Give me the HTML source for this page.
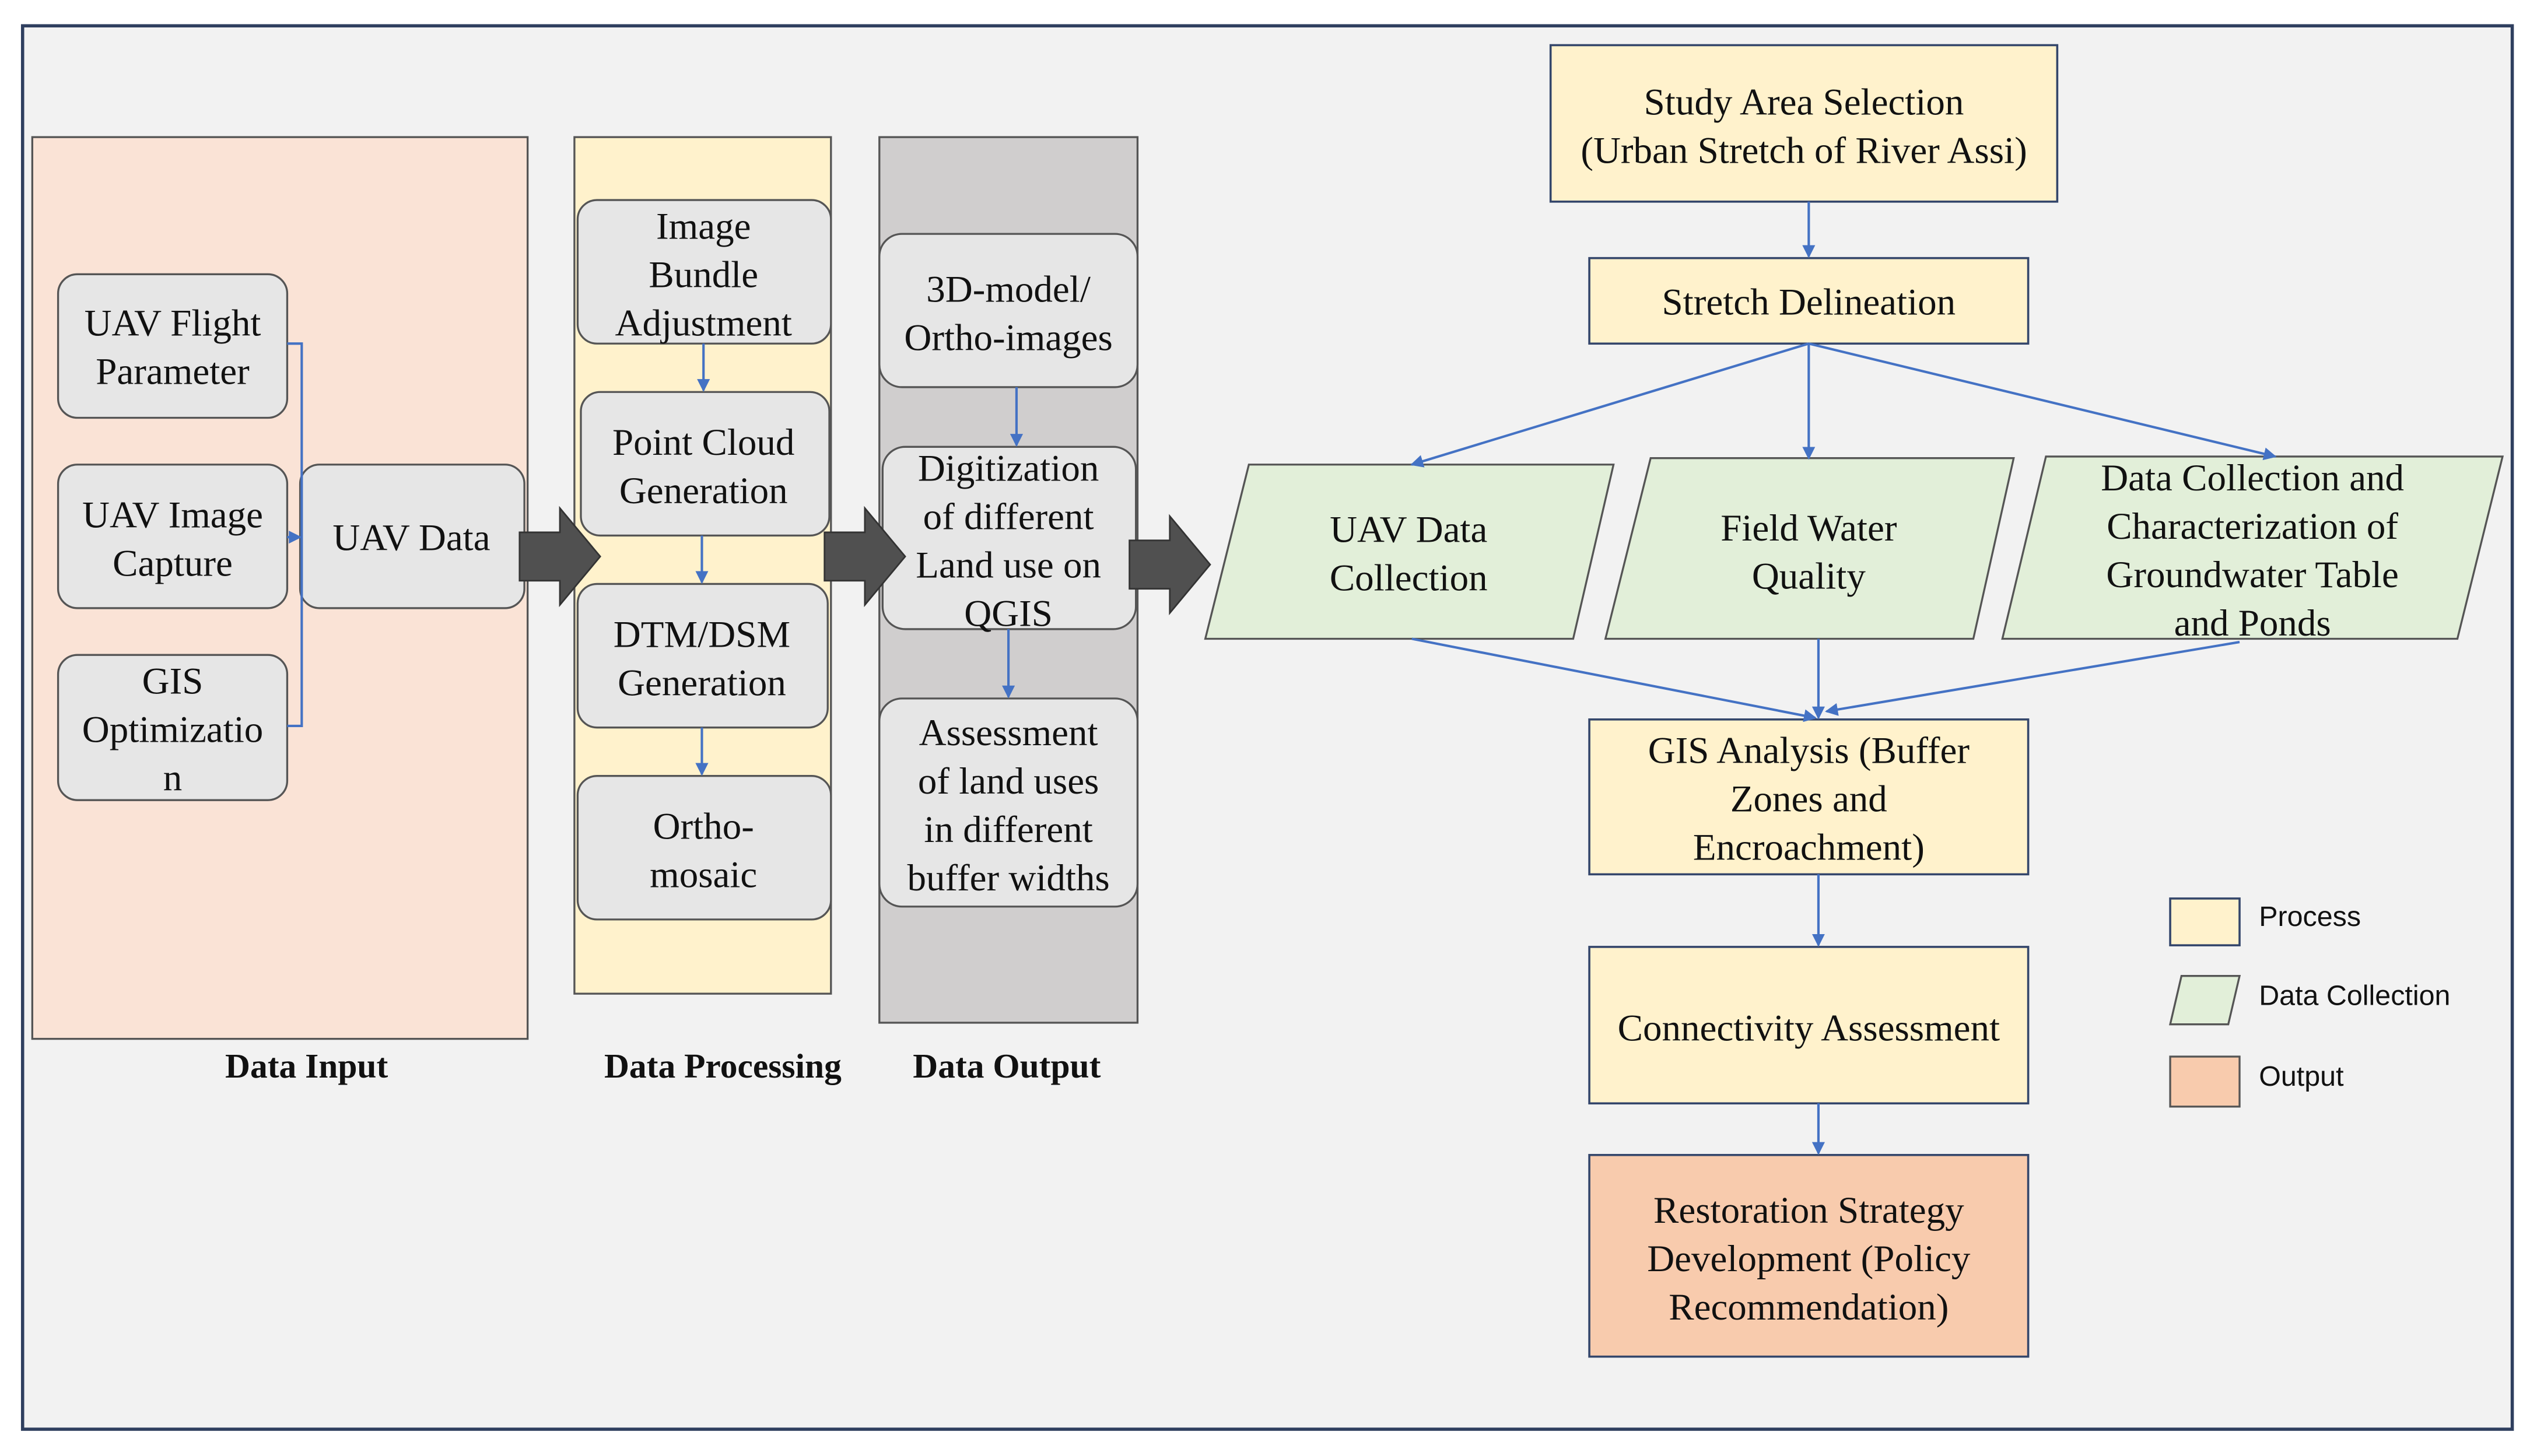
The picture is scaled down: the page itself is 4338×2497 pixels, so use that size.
<!DOCTYPE html>
<html><head><meta charset="utf-8"><style>
html,body{margin:0;padding:0;background:#fff;}
svg{display:block;}
.s{font-family:"Liberation Serif",serif;font-size:23.5px;fill:#111;text-anchor:middle;}
.b{font-family:"Liberation Serif",serif;font-size:21.5px;font-weight:bold;fill:#111;text-anchor:middle;}
.l{font-family:"Liberation Sans",sans-serif;font-size:17.5px;fill:#111;}
.g{fill:#e6e6e6;stroke:#555;stroke-width:1.2;}
.y{fill:#fff2cc;stroke:#34466b;stroke-width:1.3;}
.gr{fill:#e2efd9;stroke:#555;stroke-width:1.2;}
.ln{stroke:#4472c4;stroke-width:1.5;fill:none;}
.ar{fill:#505050;stroke:#333;stroke-width:1;}
</style></head><body>
<svg width="4338" height="2497" viewBox="0 0 1568 902.6" preserveAspectRatio="none" xmlns="http://www.w3.org/2000/svg">
<defs><marker id="a" markerWidth="8" markerHeight="8" refX="7" refY="4" orient="auto" markerUnits="userSpaceOnUse"><path d="M0,0 L8,4 L0,8 z" fill="#4472c4"/></marker></defs>
<rect x="0" y="0" width="1568" height="903" fill="#fff"/>
<rect x="14" y="16" width="1543" height="870" fill="#f2f2f2" stroke="#2f3f5f" stroke-width="2"/>
<!-- Data Input -->
<rect x="20" y="85" width="307" height="559" fill="#fae3d6" stroke="#555" stroke-width="1.2"/>
<rect class="g" x="36" y="170" width="142" height="89" rx="12"/>
<text class="s"><tspan x="107" y="208">UAV Flight</tspan><tspan x="107" y="238">Parameter</tspan></text>
<rect class="g" x="36" y="288" width="142" height="89" rx="12"/>
<text class="s"><tspan x="107" y="327">UAV Image</tspan><tspan x="107" y="357">Capture</tspan></text>
<rect class="g" x="36" y="406" width="142" height="90" rx="12"/>
<text class="s"><tspan x="107" y="430">GIS</tspan><tspan x="107" y="460">Optimizatio</tspan><tspan x="107" y="490">n</tspan></text>
<rect class="g" x="186" y="288" width="139" height="89" rx="12"/>
<text class="s" x="255" y="341">UAV Data</text>
<path class="ln" d="M178,213 H187 V450 H178"/>
<line class="ln" x1="178" y1="333" x2="186" y2="333" marker-end="url(#a)"/>
<!-- Data Processing -->
<rect x="356" y="85" width="159" height="531" fill="#fff2cc" stroke="#555" stroke-width="1.2"/>
<rect class="g" x="358" y="124" width="157" height="89" rx="12"/>
<text class="s"><tspan x="436" y="148">Image</tspan><tspan x="436" y="178">Bundle</tspan><tspan x="436" y="208">Adjustment</tspan></text>
<rect class="g" x="360" y="243" width="154" height="89" rx="12"/>
<text class="s"><tspan x="436" y="282">Point Cloud</tspan><tspan x="436" y="312">Generation</tspan></text>
<rect class="g" x="358" y="362" width="155" height="89" rx="12"/>
<text class="s"><tspan x="435" y="401">DTM/DSM</tspan><tspan x="435" y="431">Generation</tspan></text>
<rect class="g" x="358" y="481" width="157" height="89" rx="12"/>
<text class="s"><tspan x="436" y="520">Ortho-</tspan><tspan x="436" y="550">mosaic</tspan></text>
<line class="ln" x1="436" y1="213" x2="436" y2="242" marker-end="url(#a)"/>
<line class="ln" x1="435" y1="332" x2="435" y2="361" marker-end="url(#a)"/>
<line class="ln" x1="435" y1="451" x2="435" y2="480" marker-end="url(#a)"/>
<!-- Data Output -->
<rect x="545" y="85" width="160" height="549" fill="#d0cece" stroke="#555" stroke-width="1.2"/>
<rect class="g" x="545" y="145" width="160" height="95" rx="14"/>
<text class="s"><tspan x="625" y="187">3D-model/</tspan><tspan x="625" y="217">Ortho-images</tspan></text>
<rect class="g" x="547" y="277" width="157" height="113" rx="14"/>
<text class="s"><tspan x="625" y="298">Digitization</tspan><tspan x="625" y="328">of different</tspan><tspan x="625" y="358">Land use on</tspan><tspan x="625" y="388">QGIS</tspan></text>
<rect class="g" x="545" y="433" width="160" height="129" rx="14"/>
<text class="s"><tspan x="625" y="462">Assessment</tspan><tspan x="625" y="492">of land uses</tspan><tspan x="625" y="522">in different</tspan><tspan x="625" y="552">buffer widths</tspan></text>
<line class="ln" x1="630" y1="240" x2="630" y2="276" marker-end="url(#a)"/>
<line class="ln" x1="625" y1="390" x2="625" y2="432" marker-end="url(#a)"/>
<!-- Big arrows (on top) -->
<path class="ar" d="M322,330 H347 V315 L372,345 L347,375 V360 H322 Z"/>
<path class="ar" d="M511,330 H536 V315 L561,345 L536,375 V360 H511 Z"/>
<path class="ar" d="M700,335 H725 V320 L750,350 L725,380 V365 H700 Z"/>
<text class="b" x="190" y="668">Data Input</text>
<text class="b" x="448" y="668">Data Processing</text>
<text class="b" x="624" y="668">Data Output</text>
<!-- Right flow -->
<rect class="y" x="961" y="28" width="314" height="97"/>
<text class="s"><tspan x="1118" y="71">Study Area Selection</tspan><tspan x="1118" y="101">(Urban Stretch of River Assi)</tspan></text>
<rect class="y" x="985" y="160" width="272" height="53"/>
<text class="s" x="1121" y="195">Stretch Delineation</text>
<line class="ln" x1="1121" y1="125" x2="1121" y2="159" marker-end="url(#a)"/>
<polygon class="gr" points="774,288 1000,288 975,396 747,396"/>
<text class="s"><tspan x="873" y="336">UAV Data</tspan><tspan x="873" y="366">Collection</tspan></text>
<polygon class="gr" points="1023,284 1248,284 1223,396 995,396"/>
<text class="s"><tspan x="1121" y="335">Field Water</tspan><tspan x="1121" y="365">Quality</tspan></text>
<polygon class="gr" points="1268,283 1551,283 1523,396 1241,396"/>
<text class="s"><tspan x="1396" y="304">Data Collection and</tspan><tspan x="1396" y="334">Characterization of</tspan><tspan x="1396" y="364">Groundwater Table</tspan><tspan x="1396" y="394">and Ponds</tspan></text>
<line class="ln" x1="1121" y1="213" x2="875" y2="288" marker-end="url(#a)"/>
<line class="ln" x1="1121" y1="213" x2="1121" y2="284" marker-end="url(#a)"/>
<line class="ln" x1="1121" y1="213" x2="1410" y2="283" marker-end="url(#a)"/>
<rect class="y" x="985" y="446" width="272" height="96"/>
<text class="s"><tspan x="1121" y="473">GIS Analysis (Buffer</tspan><tspan x="1121" y="503">Zones and</tspan><tspan x="1121" y="533">Encroachment)</tspan></text>
<line class="ln" x1="875" y1="396" x2="1125" y2="445" marker-end="url(#a)"/>
<line class="ln" x1="1127" y1="396" x2="1127" y2="445" marker-end="url(#a)"/>
<line class="ln" x1="1388" y1="398" x2="1132" y2="441" marker-end="url(#a)"/>
<rect class="y" x="985" y="587" width="272" height="97"/>
<text class="s" x="1121" y="645">Connectivity Assessment</text>
<line class="ln" x1="1127" y1="542" x2="1127" y2="586" marker-end="url(#a)"/>
<rect x="985" y="716" width="272" height="125" fill="#f8cbad" stroke="#34466b" stroke-width="1.3"/>
<text class="s"><tspan x="1121" y="758">Restoration Strategy</tspan><tspan x="1121" y="788">Development (Policy</tspan><tspan x="1121" y="818">Recommendation)</tspan></text>
<line class="ln" x1="1127" y1="684" x2="1127" y2="715" marker-end="url(#a)"/>
<!-- Legend -->
<rect class="y" x="1345" y="557" width="43" height="29"/>
<text class="l" x="1400" y="574">Process</text>
<polygon class="gr" points="1352,605 1388,605 1381,635 1345,635"/>
<text class="l" x="1400" y="623">Data Collection</text>
<rect x="1345" y="655" width="43" height="31" fill="#f8cbad" stroke="#555" stroke-width="1.2"/>
<text class="l" x="1400" y="673">Output</text>
</svg>
</body></html>
